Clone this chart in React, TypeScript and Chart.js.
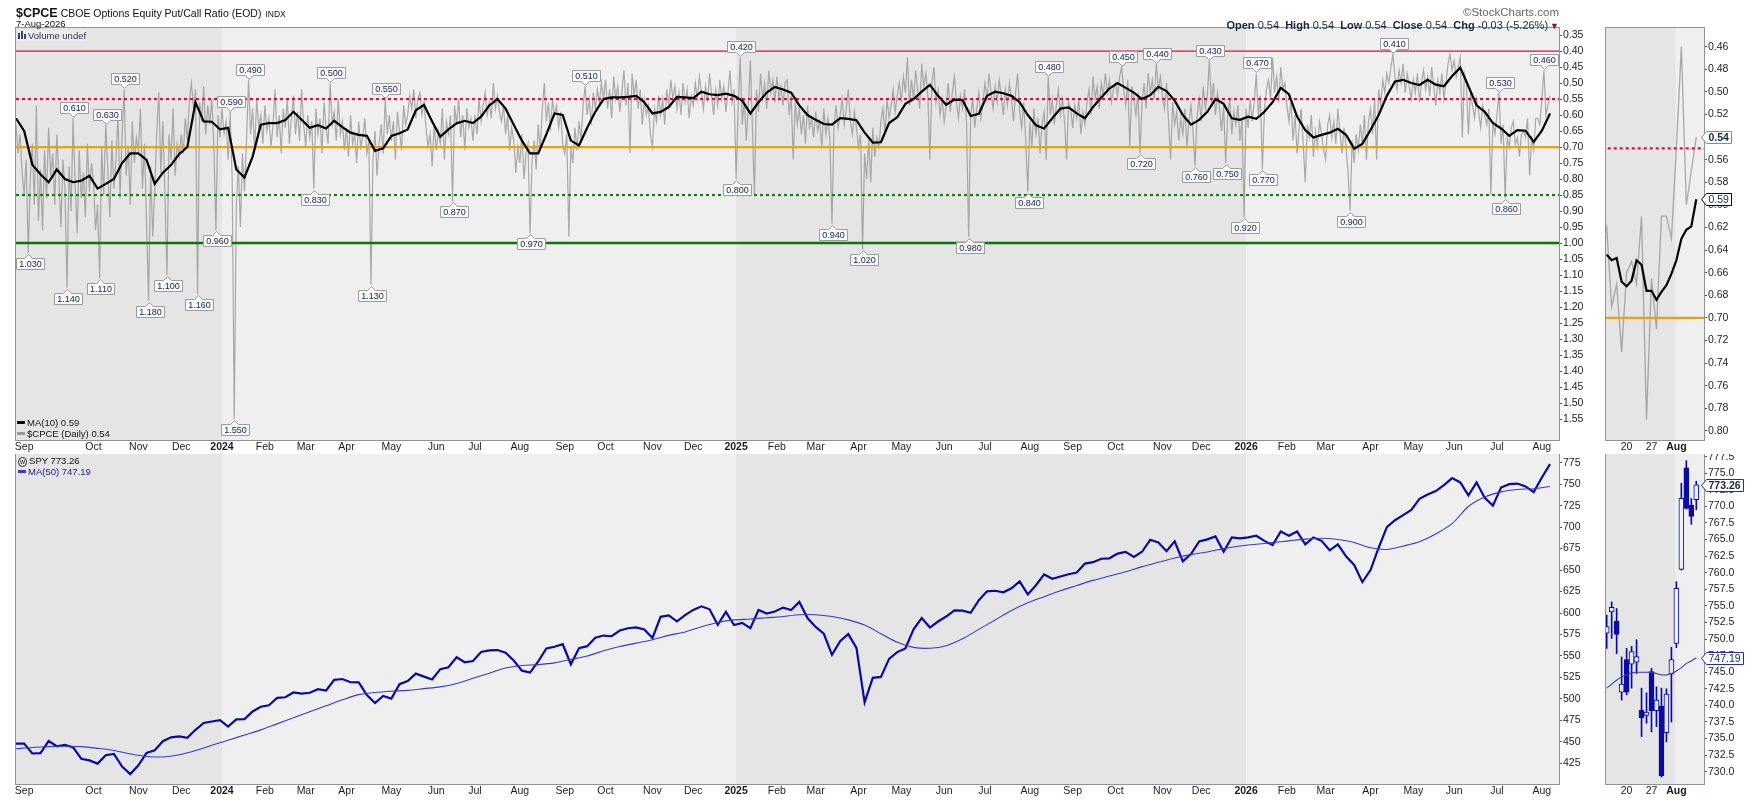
import React, { useEffect, useRef } from "react";
import { Chart, registerables } from "chart.js";

Chart.register(...registerables);

const FONT = '"Liberation Sans", Arial, Helvetica, sans-serif';

// ================= DATA =================
// x positions are trading-day indexes: 0 = 8-Aug-2023, 752 = 7-Aug-2026
const monthTickIdx = [4, 38, 60, 81, 101, 122, 142, 162, 184, 206, 225, 247, 269, 289, 312, 332, 353, 373, 392, 413, 434, 455, 475, 497, 518, 539, 562, 581, 603, 623, 642, 664, 685, 705, 726, 748];
const monthTickLabels = ["Sep", "Oct", "Nov", "Dec", "2024", "Feb", "Mar", "Apr", "May", "Jun", "Jul", "Aug", "Sep", "Oct", "Nov", "Dec", "2025", "Feb", "Mar", "Apr", "May", "Jun", "Jul", "Aug", "Sep", "Oct", "Nov", "Dec", "2026", "Feb", "Mar", "Apr", "May", "Jun", "Jul", "Aug"];
const yearStartIdx = [101, 353, 603];

const cpceAxisTicks = [0.35, 0.4, 0.45, 0.5, 0.55, 0.6, 0.65, 0.7, 0.75, 0.8, 0.85, 0.9, 0.95, 1.0, 1.05, 1.1, 1.15, 1.2, 1.25, 1.3, 1.35, 1.4, 1.45, 1.5, 1.55];
const cpceZoomTicks = [0.46, 0.48, 0.5, 0.52, 0.54, 0.56, 0.58, 0.6, 0.62, 0.64, 0.66, 0.68, 0.7, 0.72, 0.74, 0.76, 0.78, 0.8];
const spyAxisTicks = [425, 450, 475, 500, 525, 550, 575, 600, 625, 650, 675, 700, 725, 750, 775];
const spyZoomTicks = [730, 732.5, 735, 737.5, 740, 742.5, 745, 747.5, 750, 752.5, 755, 757.5, 760, 762.5, 765, 767.5, 770, 772.5, 775, 777.5];
const zoomTickIdx = [4, 9, 14];
const zoomTickLabels = ["20", "27", "Aug"];
const zoomStartIdx = 734; // 14-Jul-2026

// $CPCE daily, one array per month
const cpceMonthStart2023 = [0, 18, 38, 60, 81];
const cpce2023 = [
  [0.63, 0.72, 0.66, 0.78, 0.85, 0.74, 1.03, 0.80, 0.69, 0.88, 0.57, 0.93, 0.77, 0.96, 0.71, 0.86, 0.64, 0.79],
  [0.72, 0.88, 0.66, 0.79, 0.95, 0.74, 0.83, 1.14, 0.76, 0.90, 0.61, 0.82, 0.97, 0.71, 0.86, 0.78, 0.92, 0.69, 0.84, 0.75],
  [0.81, 0.96, 0.88, 1.11, 0.70, 0.85, 0.63, 0.77, 0.92, 0.68, 0.83, 0.74, 0.60, 0.86, 0.66, 0.52, 0.79, 0.70, 0.88, 0.62, 0.75, 0.67],
  [0.71, 0.58, 0.83, 0.69, 0.94, 1.18, 0.76, 0.98, 0.84, 0.65, 0.53, 0.78, 0.62, 0.85, 1.10, 0.66, 0.74, 0.58, 0.79, 0.69, 0.73],
  [0.66, 0.72, 0.61, 0.68, 0.55, 0.50, 0.58, 0.52, 1.16, 0.56, 0.62, 0.51, 0.66, 0.57, 0.63, 0.55, 0.70, 0.96, 0.60, 0.67],
];
const cpceMonthStart2024 = [101, 122, 142, 162, 184, 206, 225, 247, 269, 289, 312, 332];
const cpce2024 = [
  [0.58, 0.66, 0.62, 0.74, 0.59, 0.81, 1.55, 0.88, 0.76, 0.95, 0.72, 0.84, 0.68, 0.49, 0.66, 0.58, 0.71, 0.55, 0.64, 0.60, 0.69],
  [0.57, 0.65, 0.61, 0.70, 0.63, 0.52, 0.67, 0.60, 0.72, 0.58, 0.64, 0.55, 0.69, 0.61, 0.54, 0.66, 0.59, 0.68, 0.52, 0.63],
  [0.70, 0.60, 0.67, 0.62, 0.83, 0.58, 0.66, 0.61, 0.72, 0.56, 0.64, 0.69, 0.50, 0.63, 0.59, 0.68, 0.55, 0.66, 0.62, 0.71],
  [0.64, 0.73, 0.60, 0.69, 0.66, 0.75, 0.62, 0.70, 0.67, 0.61, 0.72, 0.68, 1.13, 0.74, 0.65, 0.79, 0.69, 0.63, 0.72, 0.55, 0.66, 0.60],
  [0.68, 0.62, 0.74, 0.59, 0.65, 0.71, 0.57, 0.63, 0.60, 0.54, 0.58, 0.52, 0.61, 0.55, 0.53, 0.60, 0.56, 0.64, 0.70, 0.66, 0.76, 0.63],
  [0.71, 0.65, 0.69, 0.58, 0.74, 0.62, 0.66, 0.60, 0.87, 0.57, 0.63, 0.55, 0.67, 0.60, 0.71, 0.58, 0.64, 0.61, 0.68],
  [0.60, 0.66, 0.55, 0.62, 0.57, 0.53, 0.60, 0.56, 0.61, 0.50, 0.58, 0.54, 0.59, 0.62, 0.57, 0.66, 0.60, 0.71, 0.64, 0.68, 0.78, 0.70],
  [0.75, 0.66, 0.80, 0.72, 0.69, 0.97, 0.74, 0.68, 0.77, 0.63, 0.71, 0.58, 0.50, 0.62, 0.56, 0.65, 0.55, 0.60, 0.57, 0.64, 0.59, 0.69],
  [0.72, 0.66, 0.98, 0.70, 0.75, 0.64, 0.71, 0.62, 0.68, 0.57, 0.51, 0.60, 0.55, 0.63, 0.53, 0.58, 0.52, 0.56, 0.50, 0.55],
  [0.49, 0.58, 0.52, 0.61, 0.48, 0.55, 0.51, 0.59, 0.53, 0.46, 0.57, 0.50, 0.72, 0.47, 0.54, 0.49, 0.58, 0.52, 0.63, 0.55, 0.60, 0.57, 0.66],
  [0.70, 0.58, 0.62, 0.54, 0.60, 0.55, 0.63, 0.52, 0.57, 0.49, 0.55, 0.51, 0.58, 0.53, 0.60, 0.50, 0.56, 0.52, 0.61, 0.54],
  [0.57, 0.50, 0.55, 0.48, 0.53, 0.58, 0.51, 0.56, 0.47, 0.54, 0.60, 0.52, 0.57, 0.49, 0.55, 0.51, 0.59, 0.53, 0.46, 0.56, 0.52],
];
const cpceMonthStart2025 = [353, 373, 392, 413, 434, 455, 475, 497, 518, 539, 562, 581];
const cpce2025 = [
  [0.80, 0.58, 0.42, 0.63, 0.55, 0.68, 0.57, 0.43, 0.64, 0.85, 0.52, 0.59, 0.47, 0.55, 0.50, 0.58, 0.46, 0.53, 0.49, 0.56],
  [0.48, 0.55, 0.51, 0.57, 0.50, 0.49, 0.60, 0.54, 0.74, 0.56, 0.63, 0.58, 0.66, 0.60, 0.69, 0.57, 0.64, 0.61, 0.67],
  [0.59, 0.65, 0.62, 0.70, 0.58, 0.66, 0.61, 0.68, 0.94, 0.63, 0.57, 0.64, 0.60, 0.55, 0.63, 0.58, 0.52, 0.62, 0.66, 0.59, 0.64],
  [0.70, 0.66, 1.02, 0.72, 0.80, 0.68, 0.81, 0.64, 0.73, 0.67, 0.70, 0.62, 0.58, 0.66, 0.55, 0.61, 0.57, 0.52, 0.59, 0.54, 0.50],
  [0.56, 0.48, 0.53, 0.42, 0.57, 0.49, 0.55, 0.46, 0.52, 0.58, 0.44, 0.51, 0.47, 0.54, 0.74, 0.50, 0.45, 0.56, 0.52, 0.60, 0.55],
  [0.62, 0.57, 0.50, 0.59, 0.53, 0.48, 0.56, 0.61, 0.54, 0.58, 0.52, 0.63, 0.98, 0.60, 0.55, 0.64, 0.58, 0.53, 0.61, 0.56],
  [0.50, 0.55, 0.47, 0.53, 0.58, 0.51, 0.56, 0.49, 0.54, 0.60, 0.52, 0.57, 0.50, 0.55, 0.62, 0.53, 0.47, 0.59, 0.64, 0.56, 0.68, 0.84],
  [0.62, 0.70, 0.58, 0.66, 0.61, 0.72, 0.63, 0.59, 0.74, 0.48, 0.60, 0.55, 0.63, 0.57, 0.52, 0.60, 0.55, 0.62, 0.74, 0.56, 0.58],
  [0.64, 0.57, 0.61, 0.55, 0.66, 0.59, 0.63, 0.56, 0.52, 0.60, 0.48, 0.55, 0.51, 0.58, 0.50, 0.54, 0.47, 0.53, 0.49, 0.56, 0.52],
  [0.50, 0.54, 0.48, 0.45, 0.52, 0.57, 0.49, 0.70, 0.51, 0.55, 0.60, 0.53, 0.72, 0.56, 0.50, 0.58, 0.47, 0.53, 0.49, 0.55, 0.44, 0.52, 0.48],
  [0.54, 0.58, 0.50, 0.62, 0.74, 0.56, 0.63, 0.59, 0.68, 0.61, 0.66, 0.58, 0.70, 0.62, 0.57, 0.65, 0.76, 0.60, 0.55],
  [0.62, 0.51, 0.58, 0.54, 0.43, 0.56, 0.50, 0.60, 0.53, 0.58, 0.65, 0.57, 0.75, 0.60, 0.55, 0.66, 0.59, 0.63, 0.57, 0.68, 0.61, 0.92],
];
const cpceMonthStart2026 = [603, 623, 642, 664, 685, 705, 726, 748];
const cpce2026 = [
  [0.58, 0.64, 0.55, 0.62, 0.56, 0.47, 0.60, 0.54, 0.77, 0.58, 0.52, 0.49, 0.55, 0.42, 0.53, 0.48, 0.56, 0.45, 0.52, 0.50],
  [0.57, 0.62, 0.55, 0.68, 0.60, 0.72, 0.64, 0.58, 0.69, 0.81, 0.63, 0.67, 0.60, 0.73, 0.65, 0.70, 0.62, 0.66, 0.71],
  [0.74, 0.63, 0.60, 0.67, 0.62, 0.69, 0.58, 0.65, 0.72, 0.64, 0.70, 0.78, 0.90, 0.68, 0.75, 0.66, 0.71, 0.63, 0.69, 0.60, 0.74, 0.62],
  [0.58, 0.66, 0.55, 0.74, 0.52, 0.57, 0.49, 0.53, 0.47, 0.50, 0.45, 0.41, 0.48, 0.52, 0.46, 0.50, 0.44, 0.53, 0.47, 0.51, 0.55],
  [0.49, 0.53, 0.47, 0.56, 0.50, 0.46, 0.52, 0.48, 0.54, 0.45, 0.51, 0.57, 0.49, 0.53, 0.47, 0.55, 0.50, 0.44, 0.41, 0.46],
  [0.43, 0.48, 0.45, 0.42, 0.67, 0.47, 0.50, 0.66, 0.53, 0.57, 0.61, 0.55, 0.59, 0.64, 0.57, 0.60, 0.63, 0.58, 0.85, 0.62, 0.66],
  [0.60, 0.53, 0.69, 0.63, 0.86, 0.67, 0.70, 0.64, 0.62, 0.69, 0.67, 0.73, 0.66, 0.65, 0.67, 0.61, 0.79, 0.665, 0.71, 0.61, 0.61, 0.63],
  [0.55, 0.46, 0.60, 0.57, 0.54],
];

// MA(10) of $CPCE, read every 4 trading days
const cpceMa10Step = 4;
const cpceMa10 = [
  0.61, 0.65, 0.755, 0.785, 0.81, 0.77, 0.80, 0.81, 0.805, 0.79,
  0.83, 0.815, 0.80, 0.75, 0.72, 0.72, 0.74, 0.815, 0.78, 0.756,
  0.722, 0.70, 0.56, 0.62, 0.621, 0.645, 0.64, 0.77, 0.795, 0.73,
  0.63, 0.625, 0.625, 0.616, 0.59, 0.615, 0.64, 0.632, 0.642, 0.618,
  0.638, 0.655, 0.662, 0.665, 0.712, 0.704, 0.665, 0.657, 0.645, 0.585,
  0.568, 0.62, 0.668, 0.645, 0.626, 0.618, 0.625, 0.605, 0.57, 0.55,
  0.58, 0.63, 0.68, 0.72, 0.72, 0.66, 0.595, 0.60, 0.68, 0.695,
  0.64, 0.59, 0.55, 0.545, 0.545, 0.543, 0.54, 0.56, 0.595, 0.59,
  0.575, 0.543, 0.545, 0.547, 0.527, 0.535, 0.538, 0.533, 0.54, 0.555,
  0.595, 0.56, 0.53, 0.512, 0.52, 0.53, 0.57, 0.60, 0.615, 0.628,
  0.63, 0.61, 0.612, 0.616, 0.655, 0.686, 0.685, 0.625, 0.607, 0.565,
  0.55, 0.527, 0.506, 0.54, 0.568, 0.552, 0.553, 0.603, 0.596, 0.54,
  0.527, 0.532, 0.54, 0.56, 0.60, 0.632, 0.642, 0.61, 0.58, 0.576,
  0.595, 0.61, 0.575, 0.545, 0.517, 0.50, 0.515, 0.53, 0.55, 0.538,
  0.512, 0.525, 0.555, 0.60, 0.63, 0.615, 0.59, 0.55, 0.565, 0.61,
  0.615, 0.605, 0.612, 0.59, 0.56, 0.515, 0.535, 0.605, 0.647, 0.67,
  0.662, 0.655, 0.643, 0.662, 0.705, 0.69, 0.647, 0.60, 0.54, 0.495,
  0.49, 0.50, 0.506, 0.49, 0.505, 0.51, 0.478, 0.452, 0.51, 0.57,
  0.59, 0.625, 0.642, 0.665, 0.647, 0.649, 0.684, 0.649, 0.595,
];
// MA(10) daily for the zoom panel (14-Jul .. 7-Aug-2026)
const cpceZoomMa10 = [0.644, 0.649, 0.647, 0.668, 0.672, 0.667, 0.649, 0.653, 0.676, 0.676, 0.684, 0.677, 0.671, 0.661, 0.649, 0.63, 0.622, 0.619, 0.595];

// labelled extremes (trading-day indexes)
const peakLabelIdx = [28, 44, 53, 105, 114, 154, 181, 279, 355, 506, 542, 559, 585, 608, 675, 727, 749];
const troughLabelIdx = [6, 25, 41, 65, 74, 89, 98, 107, 146, 174, 214, 252, 353, 400, 415, 467, 496, 551, 578, 593, 602, 611, 654, 730];

const refLevels = [0.4, 0.55, 0.7, 0.85, 1.0];

// SPY close, every 4 trading days
const spyStep = 4;
const spyClose = [
  448, 448, 436.5, 436.9, 451, 444.9, 446.5, 443.6, 430.4, 428.5, 424.7, 434.5, 436, 421.2, 412.5, 422.7, 437.2, 440.2, 450.8, 455.3, 456.4, 454.8, 464.1, 472, 473.7, 475.3,
  467.9, 476.3, 476.5, 485.4, 490.9, 492.6, 501.2, 502, 507.5, 506.3, 507.2, 511.3, 509.8, 522.2, 523.2, 519.4, 519.3, 504.5, 495.2, 503.5, 500.4, 517.1, 520.9, 529.5, 526, 522.6, 534.7, 536.9, 548.5, 542.7, 544.2, 554.6, 556.5, 556.9, 553.8, 544.8, 532.9, 530.7, 543.8, 558.7, 560.8, 563.7, 540.4, 559.1, 561.4, 571.3, 573.8, 573, 579.6, 582.3, 583.3, 580.8, 571, 595.6, 597.2, 590.3, 597.5, 603.6, 607.8, 604.3, 586.3, 601.3, 586.1,
  588.6, 582.4, 603.6, 599.4, 601.8, 606.3, 603.4, 612.9, 594.2, 583.8, 575.9, 551.4, 567.1, 575.5, 559.4, 496, 524.6, 525.7, 546.7, 554.5, 558.8, 581, 594.2, 583.1, 590.1, 595.9, 603.1, 602.7, 600.2, 614.9, 625.3, 625.9, 624.2, 628.8, 636.9, 621.7, 632.3, 644.9, 639.8, 642.5, 645.1, 647.2, 657.6, 659.2, 663.2, 663.7, 669.2, 671.2, 665.2, 671.3, 685.2, 682.1, 672, 683.4, 660.1, 668.7, 683.4, 685.7, 689.2, 671.4, 687.9, 687,
  688, 690, 684, 679, 695, 690, 695, 680, 688, 684, 673, 680, 666, 656, 636, 650, 676, 700, 708, 714, 720, 733, 738, 742, 749, 757, 752, 737, 752, 734, 725, 746, 750, 750.7, 747.4, 740.8, 757.7, 773.26,
];
// SPY MA(50), every 8 trading days
const spyMaStep = 8;
const spyMa50 = [
  442, 443.5, 444.5, 445, 444.5, 442.5, 440, 436, 433, 432.5, 435, 440, 446, 452, 458, 464, 471, 478, 485, 492,
  499, 505, 507.5, 509, 510, 512, 514, 518, 524, 530, 536, 539, 540, 542, 546, 550, 556, 561, 565, 569,
  574, 578, 584, 589, 592, 593, 594.5, 596, 598, 598, 596, 592, 586, 576, 566, 560, 559, 562, 570, 581,
  592, 603, 612, 619, 626, 632, 638, 643, 648, 654, 659, 664, 668, 671, 675, 678, 680, 682, 684, 686,
  687, 685.5, 682, 676, 674, 678, 683, 692, 704, 724, 735, 741, 743.8, 744.7, 747.2,
];
// SPY daily candles for the zoom panel (14-Jul .. 7-Aug-2026)
const spyOpen = [750.9, 754.1, 752.7, 742.0, 746.9, 746.2, 746.5, 739.3, 738.5, 745.1, 739.2, 739.9, 735.9, 744.7, 749.35, 760.5, 775.8, 770.2, 771.0];
const spyHigh = [753.6, 755.6, 754.6, 747.3, 748.6, 748.9, 749.9, 742.6, 741.9, 745.6, 742.8, 742.6, 742.5, 748.75, 758.65, 773.5, 776.9, 771.2, 773.8];
const spyLow = [748.6, 750.1, 747.8, 740.8, 741.6, 742.6, 744.8, 735.3, 737.3, 736.0, 736.8, 729.2, 734.5, 737.5, 748.7, 760.4, 769.6, 767.3, 769.5];
const spyCloseDaily = [751.9, 754.8, 750.7, 743.2, 742.0, 748.1, 747.35, 738.1, 739.0, 739.2, 740.8, 729.4, 741.7, 746.9, 757.65, 771.2, 769.7, 768.5, 773.26];
const spyZoomMa50 = [742.6, 743.2, 743.8, 744.3, 744.6, 744.9, 745.0, 745.0, 745.0, 745.0, 744.8, 744.6, 744.6, 744.8, 745.2, 745.7, 746.3, 746.7, 747.19];

// ================= STYLES =================
const LIGHT = "#efefef";
const DARK = "#e5e5e5";
const FRAME = "#8d939b";
const SPY_BLUE = "#0a0aa5";
const refStyles = [
  { color: "#d3123e", width: 1.2, dash: [] as number[] },
  { color: "#d3123e", width: 2.2, dash: [3, 3] },
  { color: "#e2a21c", width: 2.2, dash: [] as number[] },
  { color: "#167a16", width: 2.2, dash: [3, 3] },
  { color: "#0a760a", width: 2.5, dash: [] as number[] },
];

// ================= HELPERS =================
function buildDaily() {
  const pts: { x: number; y: number }[] = [];
  const add = (months: number[][], starts: number[]) =>
    months.forEach((m, mi) => m.forEach((v, j) => pts.push({ x: starts[mi] + j, y: v })));
  add(cpce2023, cpceMonthStart2023);
  add(cpce2024, cpceMonthStart2024);
  add(cpce2025, cpceMonthStart2025);
  add(cpce2026, cpceMonthStart2026);
  return pts;
}
const cpceDaily = buildDaily();
const cpceByIdx = new Map<number, number>(cpceDaily.map((p) => [p.x, p.y]));

const tickFont = (size: number, weight: string = "normal") => ({ family: FONT, size, weight, lineHeight: 1 });

function xScale(min: number, max: number, idx: number[], labels: string[], height: number, bold: (s: string) => boolean) {
  return {
    type: "linear",
    min,
    max,
    offset: false,
    afterBuildTicks: (s: any) => {
      s.ticks = idx.map((v) => ({ value: v }));
    },
    afterFit: (s: any) => {
      s.height = height;
      s.paddingLeft = 0;
      s.paddingRight = 0;
    },
    grid: { display: false, drawTicks: false, tickLength: 0, offset: false },
    border: { display: false },
    ticks: {
      autoSkip: false,
      maxRotation: 0,
      minRotation: 0,
      padding: 2,
      color: "#1c1c1c",
      font: (c: any) => tickFont(10.5, bold(labels[c.index] || "") ? "bold" : "normal"),
      callback: (_v: any, i: number) => labels[i],
    },
  };
}

function yScale(min: number, max: number, ticks: number[], reverse: boolean, width: number, fmt: (v: number) => string) {
  return {
    type: "linear",
    position: "right",
    min,
    max,
    reverse,
    afterBuildTicks: (s: any) => {
      s.ticks = ticks.map((v) => ({ value: v }));
    },
    afterFit: (s: any) => {
      s.width = width;
      s.paddingTop = 0;
      s.paddingBottom = 0;
    },
    grid: { drawOnChartArea: false, drawTicks: true, tickLength: 3, color: "#555" },
    border: { display: false },
    ticks: { padding: 1, color: "#1c1c1c", font: tickFont(10.5), callback: (v: any) => fmt(Number(v)) },
  };
}

function bandsPlugin(edges: number[], startDark: boolean) {
  return {
    id: "bands",
    beforeDraw(chart: any) {
      const { ctx, chartArea: a, scales } = chart;
      const x = scales.x;
      const b = [x.min, ...edges, x.max];
      ctx.save();
      for (let i = 0; i < b.length - 1; i++) {
        const x0 = Math.max(a.left, x.getPixelForValue(b[i]));
        const x1 = Math.min(a.right, x.getPixelForValue(b[i + 1]));
        ctx.fillStyle = (i % 2 === 0) === startDark ? DARK : LIGHT;
        ctx.fillRect(x0, a.top, x1 - x0, a.bottom - a.top);
      }
      ctx.restore();
    },
  };
}

const framePlugin = {
  id: "frame",
  afterDraw(chart: any) {
    const { ctx, chartArea: a } = chart;
    ctx.save();
    ctx.strokeStyle = FRAME;
    ctx.lineWidth = 1;
    ctx.strokeRect(Math.round(a.left) - 0.5, Math.round(a.top) - 0.5, Math.round(a.right - a.left) + 1, Math.round(a.bottom - a.top) + 1);
    ctx.restore();
  },
};

const calloutPlugin = {
  id: "callouts",
  afterDatasetsDraw(chart: any) {
    const { ctx, chartArea: a, scales } = chart;
    const x = scales.x;
    const y = scales.y;
    ctx.save();
    ctx.font = `9px ${FONT}`;
    const draw = (idx: number, above: boolean) => {
      const v = cpceByIdx.get(idx);
      if (v === undefined) return;
      const px = Math.round(x.getPixelForValue(idx)) + 0.5;
      const py = y.getPixelForValue(v);
      const text = v.toFixed(3);
      const w = Math.round(ctx.measureText(text).width) + 5;
      const h = 11;
      const n = 4;
      let l = Math.round(px - w / 2) + 0.5;
      if (l < a.left) l = Math.round(a.left) + 0.5;
      if (l + w > a.right) l = Math.round(a.right - w) - 0.5;
      let t: number;
      let b: number;
      ctx.beginPath();
      if (above) {
        b = Math.round(py - 1 - n) + 0.5;
        t = b - h;
        ctx.moveTo(l, t);
        ctx.lineTo(l + w, t);
        ctx.lineTo(l + w, b);
        ctx.lineTo(px + n, b);
        ctx.lineTo(px, b + n);
        ctx.lineTo(px - n, b);
        ctx.lineTo(l, b);
      } else {
        t = Math.round(py + 1 + n) + 0.5;
        b = t + h;
        ctx.moveTo(l, t);
        ctx.lineTo(px - n, t);
        ctx.lineTo(px, t - n);
        ctx.lineTo(px + n, t);
        ctx.lineTo(l + w, t);
        ctx.lineTo(l + w, b);
        ctx.lineTo(l, b);
      }
      ctx.closePath();
      ctx.fillStyle = "#f8f8f8";
      ctx.fill();
      ctx.strokeStyle = "#9d9d9d";
      ctx.lineWidth = 1;
      ctx.stroke();
      ctx.fillStyle = "#15264a";
      ctx.textAlign = "center";
      ctx.textBaseline = "middle";
      ctx.fillText(text, l + w / 2, (t + b) / 2 + 0.5);
    };
    peakLabelIdx.forEach((i) => draw(i, true));
    troughLabelIdx.forEach((i) => draw(i, false));
    ctx.restore();
  },
};

function badgePlugin(items: { value: number; text: string; bold: boolean; border: string }[]) {
  return {
    id: "badges",
    afterDraw(chart: any) {
      const { ctx, chartArea: a, scales } = chart;
      const y = scales.y;
      ctx.save();
      items.forEach((it) => {
        ctx.font = `${it.bold ? "bold " : ""}10.5px ${FONT}`;
        const py = Math.round(y.getPixelForValue(it.value)) + 0.5;
        const x0 = Math.round(a.right) - 2.5;
        const w = Math.round(ctx.measureText(it.text).width) + 5;
        const h = 12;
        const p = 5;
        ctx.beginPath();
        ctx.moveTo(x0, py);
        ctx.lineTo(x0 + p, py - h / 2);
        ctx.lineTo(x0 + p + w, py - h / 2);
        ctx.lineTo(x0 + p + w, py + h / 2);
        ctx.lineTo(x0 + p, py + h / 2);
        ctx.closePath();
        ctx.fillStyle = "#ffffff";
        ctx.fill();
        ctx.strokeStyle = it.border;
        ctx.lineWidth = 1;
        ctx.stroke();
        ctx.fillStyle = "#14244a";
        ctx.textAlign = "left";
        ctx.textBaseline = "middle";
        ctx.fillText(it.text, x0 + p + 2, py + 0.5);
      });
      ctx.restore();
    },
  };
}

const refDatasets = (x0: number, x1: number) =>
  refLevels.map((lv, i) => ({
    type: "line",
    data: [
      { x: x0, y: lv },
      { x: x1, y: lv },
    ],
    borderColor: refStyles[i].color,
    borderWidth: refStyles[i].width,
    borderDash: refStyles[i].dash,
    pointRadius: 0,
    order: 2,
  }));

const baseOptions = (padding: any) => ({
  responsive: false,
  maintainAspectRatio: false,
  animation: false,
  events: [] as string[],
  layout: { padding },
  plugins: { legend: { display: false }, tooltip: { enabled: false } },
});

// ================= CHART CONFIGS =================
const X_MAX = 756.4;

function topMainConfig(): any {
  return {
    type: "line",
    data: {
      datasets: [
        { data: cpceDaily, borderColor: "rgba(150,150,150,0.8)", borderWidth: 1.2, pointRadius: 0, order: 3 },
        ...refDatasets(0, X_MAX),
        {
          data: cpceMa10.map((v, i) => ({ x: i * cpceMa10Step, y: v })),
          borderColor: "#000",
          borderWidth: 2.2,
          pointRadius: 0,
          order: 1,
        },
      ],
    },
    options: {
      ...baseOptions({ left: 16, top: 28, right: 0, bottom: 0 }),
      scales: {
        x: xScale(0, X_MAX, monthTickIdx, monthTickLabels, 14, (s) => s.startsWith("20")),
        y: yScale(0.328, 1.6156, cpceAxisTicks, true, 47, (v) => v.toFixed(2)),
      },
    },
    plugins: [bandsPlugin(yearStartIdx, true), calloutPlugin, framePlugin],
  };
}

function topZoomConfig(): any {
  const pts: { x: number; y: number }[] = [];
  for (let i = zoomStartIdx - 1; i <= 752; i++) {
    const v = cpceByIdx.get(i);
    if (v !== undefined) pts.push({ x: i - zoomStartIdx, y: v });
  }
  return {
    type: "line",
    data: {
      datasets: [
        { data: pts, borderColor: "rgba(150,150,150,0.8)", borderWidth: 1.3, pointRadius: 0, order: 3 },
        ...refDatasets(-1, 20),
        { data: cpceZoomMa10.map((v, i) => ({ x: i, y: v })), borderColor: "#000", borderWidth: 2.2, pointRadius: 0, order: 1 },
      ],
    },
    options: {
      ...baseOptions({ left: 6, top: 28, right: 0, bottom: 0 }),
      scales: {
        x: xScale(-0.14, 19.55, zoomTickIdx, zoomTickLabels, 14, (s) => s === "Aug"),
        y: yScale(0.4435, 0.808, cpceZoomTicks, true, 46, (v) => v.toFixed(2)),
      },
    },
    plugins: [
      bandsPlugin([13.9], true),
      framePlugin,
      badgePlugin([
        { value: cpceByIdx.get(752) as number, text: (cpceByIdx.get(752) as number).toFixed(2), bold: true, border: "#8c8c8c" },
        { value: cpceZoomMa10[cpceZoomMa10.length - 1], text: "0.59", bold: false, border: "#000" },
      ]),
    ],
  };
}

function bottomMainConfig(): any {
  return {
    type: "line",
    data: {
      datasets: [
        {
          data: spyClose.map((v, i) => ({ x: i * spyStep, y: v })),
          borderColor: SPY_BLUE,
          borderWidth: 2.2,
          pointRadius: 0,
          order: 2,
        },
        {
          data: spyMa50.map((v, i) => ({ x: i * spyMaStep, y: v })),
          borderColor: "#3a3ac4",
          borderWidth: 1.1,
          pointRadius: 0,
          tension: 0.3,
          order: 1,
        },
      ],
    },
    options: {
      ...baseOptions({ left: 16, top: 0, right: 0, bottom: 0 }),
      scales: {
        x: xScale(0, X_MAX, monthTickIdx, monthTickLabels, 16, (s) => s.startsWith("20")),
        y: yScale(401, 785.1, spyAxisTicks, false, 47, (v) => v.toFixed(0)),
      },
    },
    plugins: [bandsPlugin(yearStartIdx, true), framePlugin],
  };
}

function bottomZoomConfig(): any {
  const bodyFill = spyOpen.map((o, i) => (spyCloseDaily[i] >= o ? (i >= 14 ? LIGHT : DARK) : SPY_BLUE));
  return {
    type: "bar",
    data: {
      datasets: [
        {
          type: "bar",
          data: spyLow.map((l, i) => ({ x: i, y: [l, spyHigh[i]] })),
          backgroundColor: SPY_BLUE,
          borderWidth: 0,
          barThickness: 1,
          grouped: false,
          order: 3,
        },
        {
          type: "bar",
          data: spyOpen.map((o, i) => ({ x: i, y: [Math.min(o, spyCloseDaily[i]), Math.max(o, spyCloseDaily[i])] })),
          backgroundColor: bodyFill,
          borderColor: SPY_BLUE,
          borderWidth: 1,
          borderSkipped: false,
          barThickness: 5,
          grouped: false,
          order: 2,
        },
        {
          type: "line",
          data: spyZoomMa50.map((v, i) => ({ x: i, y: v })),
          borderColor: "#3a3ac4",
          borderWidth: 1.1,
          pointRadius: 0,
          tension: 0.3,
          order: 1,
        },
      ],
    },
    options: {
      ...baseOptions({ left: 6, top: 0, right: 0, bottom: 0 }),
      scales: {
        x: xScale(-0.14, 19.55, zoomTickIdx, zoomTickLabels, 16, (s) => s === "Aug"),
        y: yScale(728.15, 777.9, spyZoomTicks, false, 46, (v) => v.toFixed(1)),
      },
    },
    plugins: [
      bandsPlugin([13.9], true),
      framePlugin,
      badgePlugin([
        { value: spyCloseDaily[spyCloseDaily.length - 1], text: spyCloseDaily[spyCloseDaily.length - 1].toFixed(2), bold: true, border: "#2a2ab0" },
        { value: spyZoomMa50[spyZoomMa50.length - 1], text: spyZoomMa50[spyZoomMa50.length - 1].toFixed(2), bold: false, border: "#2a2ab0" },
      ]),
    ],
  };
}

// ================= COMPONENTS =================
function ChartCanvas(props: { left: number; top: number; width: number; height: number; make: () => any }) {
  const ref = useRef<HTMLCanvasElement>(null);
  useEffect(() => {
    const chart = new Chart(ref.current as HTMLCanvasElement, props.make());
    return () => chart.destroy();
  }, []);
  return (
    <canvas
      ref={ref}
      width={props.width}
      height={props.height}
      style={{ position: "absolute", left: props.left, top: props.top, width: props.width, height: props.height }}
    />
  );
}

const abs = (left: number, top: number, extra: any = {}) => ({ position: "absolute" as const, left, top, whiteSpace: "nowrap" as const, ...extra });

function LineKey({ color, width = 8 }: { color: string; width?: number }) {
  return <span style={{ display: "inline-block", width, height: 3, background: color, verticalAlign: "middle", marginRight: 2, marginTop: -2 }} />;
}

export default function App() {
  return (
    <div style={{ position: "fixed", left: 0, top: 0, width: 1750, height: 800, background: "#fff", overflow: "hidden", fontFamily: FONT, color: "#111" }}>
      <ChartCanvas left={0} top={454} width={1606} height={346} make={bottomMainConfig} />
      <ChartCanvas left={1600} top={454} width={150} height={346} make={bottomZoomConfig} />
      <ChartCanvas left={0} top={0} width={1606} height={454} make={topMainConfig} />
      <ChartCanvas left={1600} top={0} width={150} height={454} make={topZoomConfig} />

      {/* header left */}
      <div style={abs(16, 5, { lineHeight: "14px" })}>
        <span style={{ fontWeight: "bold", fontSize: 12.5, color: "#111" }}>$CPCE</span>
        <span style={{ fontSize: 10.5, marginLeft: 3 }}>CBOE Options Equity Put/Call Ratio (EOD)</span>
        <span style={{ fontSize: 8.5, marginLeft: 4 }}>INDX</span>
      </div>
      <div style={abs(16, 18, { fontSize: 9.5, lineHeight: "12px" })}>7-Aug-2026</div>

      {/* header right */}
      <div style={abs(1259, 5, { width: 300, textAlign: "right", fontSize: 11.5, color: "#666", lineHeight: "14px" })}>©StockCharts.com</div>
      <div style={abs(1059, 19, { width: 500, textAlign: "right", fontSize: 11, color: "#1b2740", lineHeight: "12px" })}>
        <b>Open</b> 0.54&nbsp; <b>High</b> 0.54&nbsp; <b>Low</b> 0.54&nbsp; <b>Close</b> 0.54&nbsp; <b>Chg</b> -0.03 (-5.26%)
        <span style={{ color: "#9a0a28", fontSize: 9, marginLeft: 2 }}>▼</span>
      </div>

      {/* top panel legends */}
      <div style={abs(18, 30, { fontSize: 9.5, color: "#2a3350", lineHeight: "11px", background: "rgba(240,240,240,0.7)" })}>
        <span style={{ display: "inline-block", width: 2, height: 6, background: "#3b4766", marginRight: 1 }} />
        <span style={{ display: "inline-block", width: 2, height: 8, background: "#3b4766", marginRight: 1 }} />
        <span style={{ display: "inline-block", width: 2, height: 5, background: "#3b4766", marginRight: 2 }} />
        Volume undef
      </div>
      <div style={abs(17, 417, { fontSize: 9.5, lineHeight: "11px" })}>
        <LineKey color="#000" />MA(10) 0.59
      </div>
      <div style={abs(17, 428, { fontSize: 9.5, lineHeight: "11px" })}>
        <LineKey color="#9a9a9a" />$CPCE (Daily) 0.54
      </div>

      {/* bottom panel legends */}
      <div style={abs(18, 455, { fontSize: 9.5, lineHeight: "11px", color: "#111" })}>
        <span style={{ display: "inline-block", fontSize: 7, border: "1px solid #333", borderRadius: 5, padding: "0 1px", marginRight: 2, lineHeight: "8px" }}>w</span>
        SPY 773.26
      </div>
      <div style={abs(18, 466, { fontSize: 9.5, lineHeight: "11px", color: "#1a1aa0" })}>
        <LineKey color="#3a3ac4" />MA(50) 747.19
      </div>
    </div>
  );
}
